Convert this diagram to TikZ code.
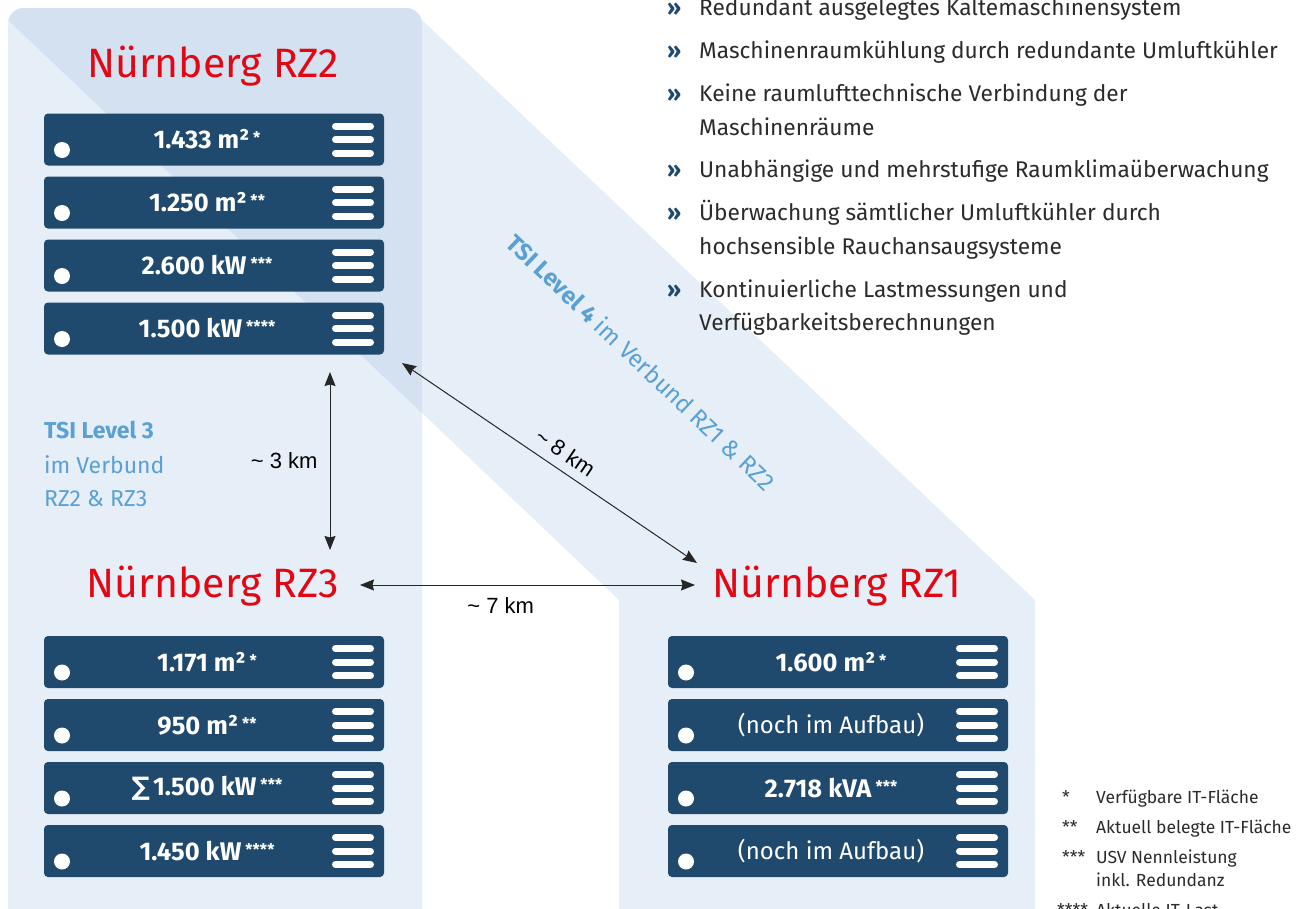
\documentclass[tikz,border=0pt]{standalone}
\usepackage{fontspec}
\setmainfont{Fira Sans}
\newfontfamily\kmfont{Liberation Sans}
\newfontfamily\sumfont{DejaVu Sans}
\usetikzlibrary{arrows.meta}
\definecolor{panelblue}{HTML}{E6EFF8}
\definecolor{overlapblue}{HTML}{D3E1F1}
\definecolor{rackblue}{HTML}{1F4A6D}
\definecolor{rzred}{HTML}{E30613}
\definecolor{tsiblue}{HTML}{5AA0D2}
\definecolor{bodygray}{HTML}{2B2B2B}
\newcommand{\stars}[1]{\hspace{4pt}\raisebox{5pt}{\fontsize{16}{16}\selectfont #1}}
\newcommand{\building}{\mdseries\fontsize{24}{24}\selectfont (noch im Aufbau)}
\begin{document}
\begin{tikzpicture}[x=1pt, y=-1pt,
	rack/.style={fill=rackblue, rounded corners=4pt, minimum width=340pt, minimum height=52pt,
		inner sep=0pt, text=white, font=\bfseries\fontsize{25.5}{25.5}\selectfont,
		execute at begin node=\hspace*{-14pt},
		path picture={
			\fill[white] ([xshift=18pt,yshift=-10.5pt]path picture bounding box.west) circle (8pt);
			\foreach \lineoff in {-13.5,0,13.5}
				\draw[white, line width=7pt, line cap=round]
					([xshift=-48.5pt,yshift=\lineoff pt]path picture bounding box.east) --
					([xshift=-13.5pt,yshift=\lineoff pt]path picture bounding box.east);
		}},
	title/.style={text=rzred, font=\fontsize{41}{41}\selectfont, anchor=base, inner sep=0pt},
	bullet/.style={text=rackblue, font=\bfseries\fontsize{22.5}{22.5}\selectfont, anchor=base west, inner sep=0pt},
	item/.style={text=bodygray, font=\fontsize{22.7}{22.7}\selectfont, anchor=base west, inner sep=0pt},
	note/.style={text=bodygray, font=\fontsize{17.5}{17.5}\selectfont, anchor=base west, inner sep=0pt},
	tsi/.style={text=tsiblue, font=\fontsize{23}{23}\selectfont, anchor=base west, inner sep=0pt},
	km/.style={text=black, font=\kmfont\fontsize{22}{22}\selectfont, inner sep=0pt},
	kmarrow/.style={draw=black!85, line width=1pt, <->, >={Stealth[length=14pt,width=11pt,inset=1.5pt]}}
]
	\useasboundingbox (0,0) rectangle (1305,908);
	\clip (0,0) rectangle (1305,908);
	% Background panels and band
	\fill[panelblue, rounded corners=16pt] (8,8) rectangle (422,940);
	\fill[panelblue] (619,600) -- (422,413) -- (422,20) -- (1035,600) [rounded corners=16pt]
		-- (1035,940) -- (619,940) [sharp corners] -- cycle;
	% Overlap of RZ2 panel and band
	\begin{scope}
		\clip[rounded corners=16pt] (8,8) rectangle (422,940);
		\fill[overlapblue] (8,8) -- (422,8) -- (422,413) -- (8,20) -- cycle;
	\end{scope}
	% RZ2
	\node[title] (rz2) at (213,77) {Nürnberg RZ2};
	\node[rack] (rz2a) at (214,139.5) {1.433 m²\stars{*}};
	\node[rack] (rz2b) at (214,202.5) {1.250 m²\stars{**}};
	\node[rack] (rz2c) at (214,265.5) {2.600 kW\stars{***}};
	\node[rack] (rz2d) at (214,328.5) {1.500 kW\stars{****}};
	% RZ3
	\node[title] (rz3) at (213,597) {Nürnberg RZ3};
	\node[rack] (rz3a) at (214,662) {1.171 m²\stars{*}};
	\node[rack] (rz3b) at (214,725) {950 m²\stars{**}};
	\node[rack] (rz3c) at (214,788) {{\sumfont ∑}\hspace{3pt}1.500 kW\stars{***}};
	\node[rack] (rz3d) at (214,851) {1.450 kW\stars{****}};
	% RZ1
	\node[title] (rz1) at (837,597) {Nürnberg RZ1};
	\node[rack] (rz1a) at (838,662) {1.600 m²\stars{*}};
	\node[rack] (rz1b) at (838,725) {\building};
	\node[rack] (rz1c) at (838,788) {2.718 kVA\stars{***}};
	\node[rack] (rz1d) at (838,851) {\building};
	% TSI labels
	\node[tsi] (tsi3a) at (44,438) {\bfseries TSI Level 3};
	\node[tsi] (tsi3b) at (44,473) {im Verbund};
	\node[tsi] (tsi3c) at (44,506) {RZ2 \& RZ3};
	\node[text=tsiblue, font=\fontsize{24}{24}\selectfont, rotate=-43.5] (tsi4) at (641,362)
		{\textbf{TSI Level 4} im Verbund RZ1 \& RZ2};
	% Distances
	\coordinate (v2) at (330,372);
	\coordinate (v3) at (330,550);
	\draw[kmarrow] (v2) -- node[km, left=12pt] {\textasciitilde{} 3 km} (v3);
	\coordinate (h3) at (360,585);
	\coordinate (h1) at (695,585);
	\draw[kmarrow] (h3) -- node[km, pos=0.42, below=12pt] {\textasciitilde{} 7 km} (h1);
	\coordinate (d2) at (402,363);
	\coordinate (d1) at (697,563);
	\draw[kmarrow] (d2) -- node[km, pos=0.52, sloped, above=9pt] {\textasciitilde{} 8 km} (d1);
	% Feature list
	\node[bullet] (b1) at (667,15) {»};
	\node[item] (t1) at (699,15) {Redundant ausgelegtes Kältemaschinensystem};
	\node[bullet] (b2) at (667,58) {»};
	\node[item] (t2) at (699,58) {Maschinenraumkühlung durch redundante Umluftkühler};
	\node[bullet] (b3) at (667,101) {»};
	\node[item] (t3) at (699,101) {Keine raumlufttechnische Verbindung der};
	\node[item] (t3b) at (699,135) {Maschinenräume};
	\node[bullet] (b4) at (667,177) {»};
	\node[item] (t4) at (699,177) {Unabhängige und mehrstufige Raumklimaüberwachung};
	\node[bullet] (b5) at (667,220) {»};
	\node[item] (t5) at (699,220) {Überwachung sämtlicher Umluftkühler durch};
	\node[item] (t5b) at (699,254) {hochsensible Rauchansaugsysteme};
	\node[bullet] (b6) at (667,297) {»};
	\node[item] (t6) at (699,297) {Kontinuierliche Lastmessungen und};
	\node[item] (t6b) at (699,330) {Verfügbarkeitsberechnungen};
	% Footnotes
	\node[note] (s1) at (1062,803) {*};
	\node[note] (n1) at (1096,803) {Verfügbare IT-Fläche};
	\node[note] (s2) at (1062,833) {**};
	\node[note] (n2) at (1096,833) {Aktuell belegte IT-Fläche};
	\node[note] (s3) at (1062,863) {***};
	\node[note] (n3) at (1096,863) {USV Nennleistung};
	\node[note] (n3b) at (1096,886) {inkl. Redundanz};
	\node[note] (s4) at (1057,916) {****};
	\node[note] (n4) at (1096,916) {Aktuelle IT-Last};
\end{tikzpicture}
\end{document}
